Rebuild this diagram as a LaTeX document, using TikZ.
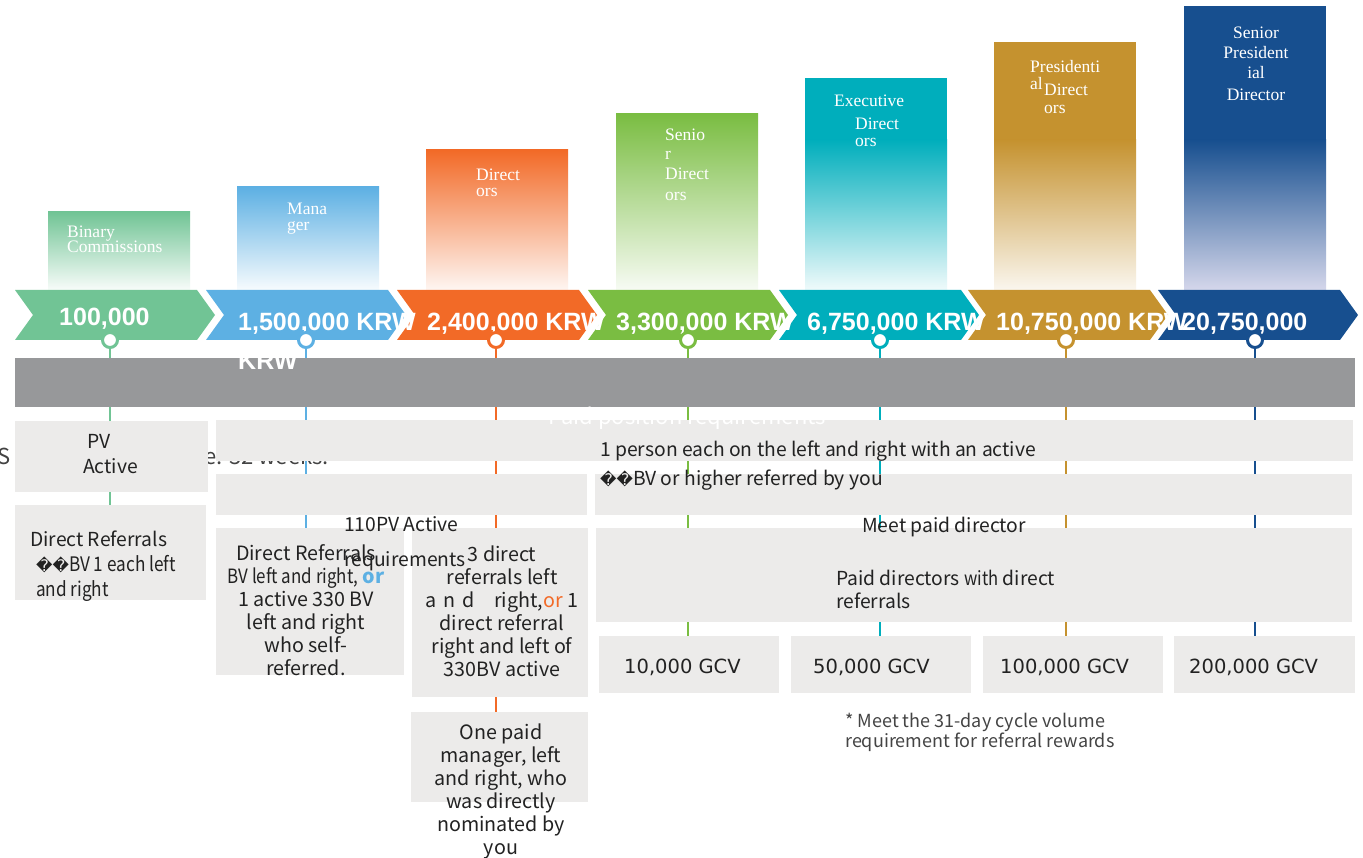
\documentclass[tikz,border=0pt]{standalone}
\usepackage{fontspec}
\setmainfont{Noto Sans CJK KR}
\newfontfamily\bodyc[FakeStretch=0.86]{Noto Sans CJK KR}
\newfontfamily\gcvf{DejaVu Sans}
\newfontfamily\chevf{Liberation Sans}
\newfontfamily\serf{Liberation Serif}
\newfontfamily\djv{DejaVu Sans}
\newcommand{\rch}{{\djv\fontsize{16}{18}\selectfont\symbol{"FFFD}}}
\definecolor{cgrn}{HTML}{71C495}
\definecolor{cblu}{HTML}{5DB0E3}
\definecolor{cora}{HTML}{F26A27}
\definecolor{cgr2}{HTML}{7ABD42}
\definecolor{ctea}{HTML}{00AEBC}
\definecolor{cgol}{HTML}{C5922F}
\definecolor{cnav}{HTML}{174F8F}
\definecolor{clav}{HTML}{D5D7EB}
\definecolor{cband}{HTML}{97989A}
\definecolor{cbox}{HTML}{ECEBEA}
\definecolor{ctxt}{HTML}{222222}
\definecolor{cfoot}{HTML}{444444}
\begin{document}
\begin{tikzpicture}[x=1pt,y=-1pt,
  ttl/.style={inner sep=0, text=white, font=\serf\fontsize{17.5}{16}\selectfont, text height=0.7em, text depth=0.2em},
  chev/.style={inner sep=0, text=white, font=\chevf\bfseries\fontsize{25}{26}\selectfont, text height=0.72em, text depth=0.05em},
  bt/.style={inner sep=0, text=ctxt, font=\fontsize{19.3}{23}\selectfont, text height=0.72em, text depth=0.22em},
  btc/.style={bt, font=\bodyc\fontsize{20}{23}\selectfont},
  ml/.style={inner sep=0, text=ctxt, align=center, font=\fontsize{19.7}{23}\selectfont},
  gcv/.style={inner sep=0, text=ctxt, font=\gcvf\fontsize{19.5}{22}\selectfont, text height=0.72em, text depth=0.22em},
  ring/.style={circle, fill=white, line width=3pt, minimum size=15pt, inner sep=0},
  vline/.style={line width=2pt}]
\useasboundingbox[fill=white] (0,0) rectangle (1363,858);

% ---------- top bars ----------
\fill[top color=cgrn, middle color=cgrn!80!white, bottom color=cgrn!5!white] (48,212) rectangle (190,290);
\fill[top color=cblu, middle color=cblu!80!white, bottom color=cblu!5!white] (237,187) rectangle (379,290);
\fill[top color=cora, middle color=cora!80!white, bottom color=cora!6!white] (426,150) rectangle (568,290);
\fill[top color=cgr2, middle color=cgr2!78!white, bottom color=cgr2!6!white] (616,114) rectangle (758,290);
\fill[ctea] (805,78) rectangle (947,141);
\fill[top color=ctea, middle color=ctea!75!white, bottom color=ctea!6!white] (805,140) rectangle (947,290);
\fill[cgol] (994,42) rectangle (1136,141);
\fill[top color=cgol, middle color=cgol!80!white, bottom color=cgol!8!white] (994,140) rectangle (1136,290);
\fill[cnav] (1184,6) rectangle (1326,141);
\fill[top color=cnav, middle color=cnav!78!clav, bottom color=clav] (1184,140) rectangle (1326,290);

\node[ttl,anchor=west] (t1a) at (67,235) {Binary};
\node[ttl,anchor=west] (t1b) at (67,250) {Commissions};
\node[ttl,anchor=west] (t2a) at (287,212) {Mana};
\node[ttl,anchor=west] (t2b) at (287,228) {ger};
\node[ttl,anchor=west] (t3a) at (476,178) {Direct};
\node[ttl,anchor=west] (t3b) at (476,194) {ors};
\node[ttl,anchor=west] (t4a) at (665,138) {Senio};
\node[ttl,anchor=west] (t4b) at (665,157) {r};
\node[ttl,anchor=west] (t4c) at (665,177) {Direct};
\node[ttl,anchor=west] (t4d) at (665,198) {ors};
\node[ttl,anchor=west] (t5a) at (834,104) {Executive};
\node[ttl,anchor=west] (t5b) at (855,127) {Direct};
\node[ttl,anchor=west] (t5c) at (855,144) {ors};
\node[ttl,anchor=west] (t6a) at (1030,70) {Presidenti};
\node[ttl,anchor=west] (t6b) at (1030,87) {al};
\node[ttl,anchor=west] (t6c) at (1044,93) {Direct};
\node[ttl,anchor=west] (t6d) at (1044,111) {ors};
\node[ttl] (t7a) at (1256,36) {Senior};
\node[ttl] (t7b) at (1256,56) {President};
\node[ttl] (t7c) at (1256,76) {ial};
\node[ttl] (t7d) at (1256,98) {Director};

% ---------- chevrons ----------
\foreach \s/\c in {15/cgrn,206/cblu,397/cora,588/cgr2,779/ctea,968/cgol}{
  \fill[\c] (\s,290) -- ++(182,0) -- ++(18,25) -- ++(-18,25) -- ++(-182,0) -- ++(18,-25) -- cycle;
}
\fill[cnav] (1158,290) -- (1340,290) -- (1358,315) -- (1340,340) -- (1158,340) -- (1176,315) -- cycle;

\node[chev,anchor=west] (k1) at (59,322) {100,000};
\node[chev,anchor=west] (k2) at (238,327) {1,500,000 KRW};
\node[chev,anchor=west] (k3) at (427,327) {2,400,000 KRW};
\node[chev,anchor=west] (k4) at (616,327) {3,300,000 KRW};
\node[chev,anchor=west] (k5) at (807,327) {6,750,000 KRW};
\node[chev,anchor=west] (k6) at (996,327) {10,750,000 KRW};
\node[chev,anchor=west] (k7) at (1182,327) {20,750,000};

% ---------- markers and connector lines ----------
\node[ring,draw=cgrn] (c1) at (110,340) {};
\node[ring,draw=cblu] (c2) at (306,340) {};
\node[ring,draw=cora] (c3) at (496,340) {};
\node[ring,draw=cgr2] (c4) at (688,340) {};
\node[ring,draw=ctea] (c5) at (880,340) {};
\node[ring,draw=cgol] (c6) at (1066,340) {};
\node[ring,draw=cnav] (c7) at (1255,340) {};
\coordinate (e1) at (110,510);
\coordinate (e2) at (306,532);
\coordinate (e3) at (496,716);
\coordinate (e4) at (688,640);
\coordinate (e5) at (880,640);
\coordinate (e6) at (1066,640);
\coordinate (e7) at (1255,640);
\draw[vline,cgrn] (c1) -- (e1);
\draw[vline,cblu] (c2) -- (e2);
\draw[vline,cora] (c3) -- (e3);
\draw[vline,cgr2] (c4) -- (e4);
\draw[vline,ctea] (c5) -- (e5);
\draw[vline,cgol] (c6) -- (e6);
\draw[vline,cnav] (c7) -- (e7);

% ---------- grey band ----------
\fill[cband] (15,358) rectangle (1355,407);
\node[chev,anchor=west] (k2b) at (238,366) {KRW};

% ---------- text partly hidden behind boxes ----------
\node[bt,anchor=west,text=ctxt!85,font=\fontsize{22}{24}\selectfont] (hs) at (-3,462) {S};
\node[bt,anchor=west,text=ctxt!85,font=\fontsize{22}{24}\selectfont] (hw) at (204,462) {e. 32 weeks.};

% ---------- requirement boxes ----------
\fill[cbox] (15,421) rectangle (208,492);
\fill[cbox] (15,505) rectangle (206,600);
\fill[cbox] (216,420) rectangle (1353,461);
\fill[cbox] (216,474) rectangle (587,515);
\fill[cbox] (595,474) rectangle (1352,515);
\fill[cbox] (216,528) rectangle (404,675);
\fill[cbox] (412,528) rectangle (588,697);
\fill[cbox] (411,712) rectangle (588,802);
\fill[cbox] (596,528) rectangle (1352,622);
\fill[cbox] (599,636) rectangle (779,693);
\fill[cbox] (791,636) rectangle (971,693);
\fill[cbox] (983,636) rectangle (1163,693);
\fill[cbox] (1174,636) rectangle (1355,693);

\node[bt,text=white,font=\fontsize{22}{24}\selectfont] (ppr) at (687,422) {Paid position requirements};

% left column
\node[bt,anchor=west] (a1) at (87,446) {PV};
\node[bt,anchor=west] (a2) at (83,471) {Active};
\node[bt,anchor=west] (a3) at (30,544) {Direct Referrals};
\node[btc,anchor=west] (a4) at (36,569) {\rch\rch BV 1 each left};
\node[btc,anchor=west] (a5) at (36,594) {and right};

% second column
\node[ml] (b1) at (306,610) {Direct Referrals\\
  {\bodyc BV left and right,} {\bfseries\color{cblu}or}\\
  1 active 330 BV\\ left and right\\ who self-\\ referred.};
\node[bt,anchor=west] (b2) at (344,529) {110PV Active};
\node[bt,anchor=west] (b3) at (344,564) {requirements};

% third column
\node[ml] (d1) at (502,611) {3 direct\\ referrals left\\
  a\,\,n\,\,d\quad right,{\color{cora}or} 1\\ direct referral\\ right and left of\\ 330BV active};
\node[ml] (d2) at (501,791) {One paid\\ manager, left\\ and right, who\\ was directly\\ nominated by\\ you};

% right area
\node[bt,anchor=west] (r1) at (600,454) {1 person each on the left and right with an active};
\node[bt,anchor=west] (r2) at (600,483) {\rch\rch BV or higher referred by you};
\node[bt,anchor=west] (r3) at (862,530) {Meet paid director};
\node[bt,anchor=west] (r4) at (836,583) {Paid directors {\bodyc with} direct};
\node[bt,anchor=west] (r5) at (836,606) {referrals};

\node[gcv,anchor=west] (g1) at (624,671) {10,000 GCV};
\node[gcv,anchor=west] (g2) at (813,671) {50,000 GCV};
\node[gcv,anchor=west] (g3) at (1000,671) {100,000 GCV};
\node[gcv,anchor=west] (g4) at (1189,671) {200,000 GCV};

\node[bt,anchor=west,text=cfoot,font=\fontsize{18}{20}\selectfont] (f1) at (845,725) {* Meet the 31-day cycle volume};
\node[bt,anchor=west,text=cfoot,font=\fontsize{18}{20}\selectfont] (f2) at (845,745) {requirement for referral rewards};
\end{tikzpicture}
\end{document}
